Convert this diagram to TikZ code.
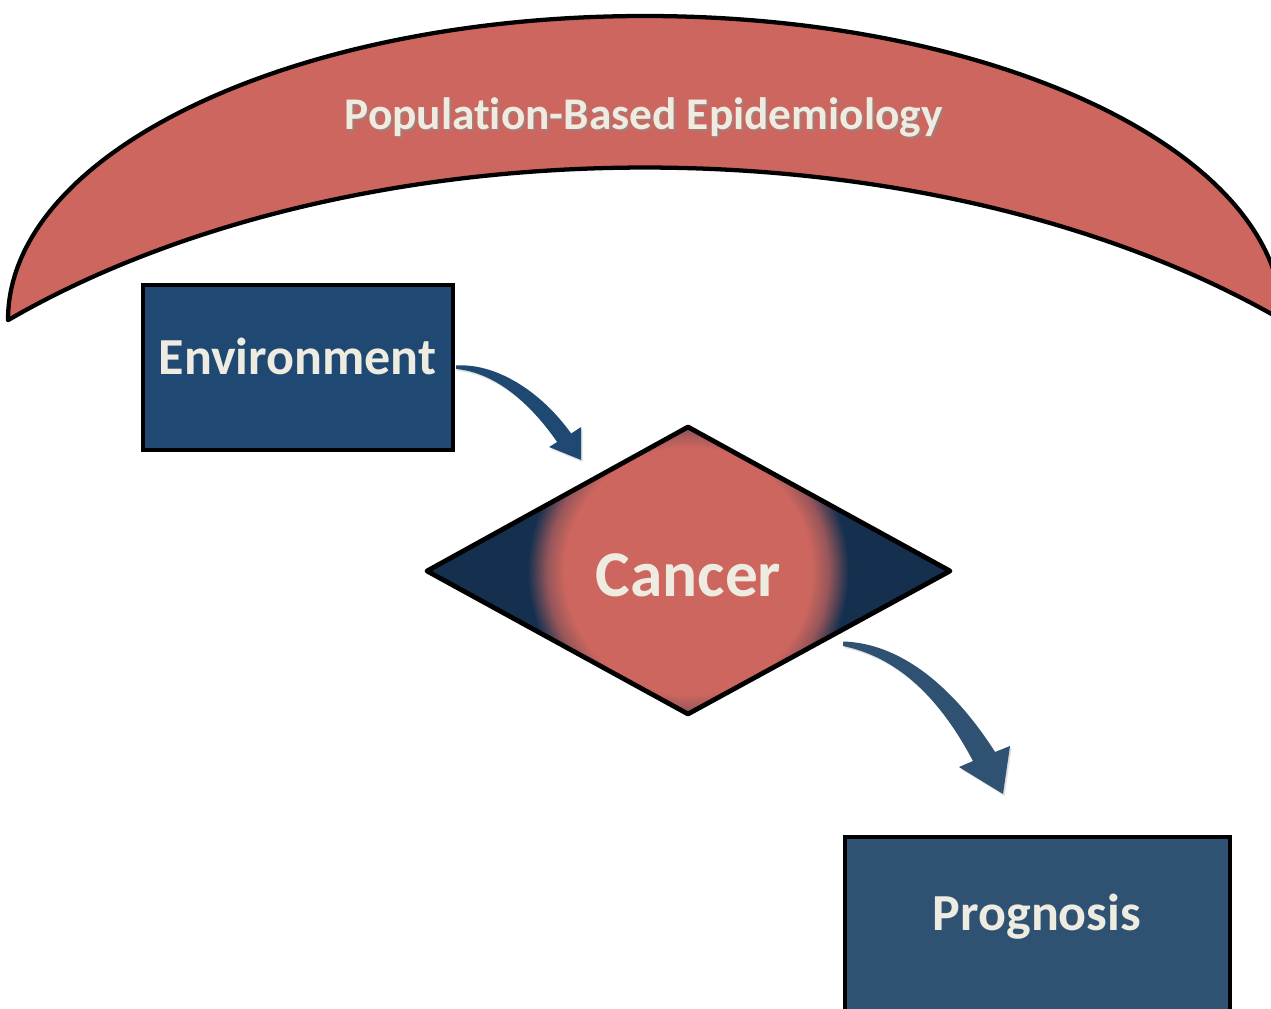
\documentclass[tikz,border=0pt]{standalone}
\usepackage{fontspec}
\setmainfont{Carlito}[Ligatures=NoCommon]
\usetikzlibrary{calc,shadows}

\definecolor{crescentred}{RGB}{205,102,94}
\definecolor{cream}{RGB}{238,236,225}
\definecolor{envblue}{RGB}{31,73,114}
\definecolor{progblue}{RGB}{47,82,115}
\definecolor{deepnavy}{RGB}{21,48,79}

% red disc that fades into navy towards its rim (25bp = path radius)
\pgfdeclareradialshading{cancerglow}{\pgfpoint{0bp}{0bp}}{%
  color(0bp)=(crescentred); color(18.2bp)=(crescentred);
  color(20.7bp)=(crescentred!70!deepnavy); color(23.6bp)=(deepnavy);
  color(50bp)=(deepnavy)}

\begin{document}
\begin{tikzpicture}[x=0.75pt,y=-0.75pt,
  outline/.style={draw=black,line width=3.2pt},
  boxnode/.style={outline,rectangle,inner sep=0pt},
  label/.style={text=cream,font=\bfseries,inner sep=0pt,anchor=base},
  blockarrow/.style={drop shadow={opacity=0.25,shadow xshift=1.2pt,shadow yshift=-1.5pt}}]
\useasboundingbox (0,0) rectangle (1271,1009);
\clip (0,0) rectangle (1271,1009);

% crescent band across the top
\filldraw[outline,fill=crescentred,line join=round]
  (8,320) arc[start angle=180,end angle=360,x radius=637,y radius=304]
  arc[start angle=-44.7,end angle=-135.3,x radius=896,y radius=514] -- cycle;
\node[label,text=black!45,opacity=0.6,font=\bfseries\fontsize{34}{40}\selectfont]
  (titleshadow) at (645.5,132) {Population-Based Epidemiology};
\node[label,font=\bfseries\fontsize{34}{40}\selectfont]
  (title) at (643.5,130) {Population-Based Epidemiology};

% boxes
\node[boxnode,fill=envblue,minimum width=232.5pt,minimum height=123.75pt]
  (env) at (298,367.5) {};
\node[label,font=\bfseries\fontsize{39}{46}\selectfont]
  (envtext) at (297.5,374) {Environment};

\node[boxnode,fill=progblue,minimum width=288.75pt,minimum height=165pt]
  (prog) at (1037.5,947) {};
\node[label,font=\bfseries\fontsize{39}{46}\selectfont]
  (progtext) at (1037,930) {Prognosis};

% diamond with glowing centre
\coordinate (cancer) at (688,571);
\begin{scope}
  \clip ($(cancer)+(-261,0)$) -- ($(cancer)+(0,-144)$) -- ($(cancer)+(262,0)$)
        -- ($(cancer)+(0,143)$) -- cycle;
  \fill[deepnavy] (cancer) ++(-300,-200) rectangle ++(600,400);
  \shade[shading=cancerglow] (cancer) circle[radius=170];
\end{scope}
\draw[outline,line width=3.6pt,line join=round]
  ($(cancer)+(-261,0)$) -- ($(cancer)+(0,-144)$) -- ($(cancer)+(262,0)$)
  -- ($(cancer)+(0,143)$) -- cycle;
\node[label,font=\bfseries\fontsize{49}{58}\selectfont]
  (cancertext) at (688.5,596) {Cancer};

% curved arrow: Environment -> Cancer
\begin{scope}[shift={(env.east)}]
  \fill[envblue,blockarrow]
    (1,-2) .. controls (39,-4.5) and (84,21.5) .. (116,66)
    -- (126,59.5) -- (126,92.5) -- (94,79.5) -- (102,74.5)
    .. controls (74,34) and (39,5) .. (1,1.5) -- cycle;
\end{scope}

% curved arrow: Cancer -> Prognosis
\begin{scope}[shift={(cancer)}]
  \fill[progblue,blockarrow]
    (155,70.5) .. controls (212,72) and (265,115) .. (307,181)
    -- (322,175) -- (315,223) -- (271,196) -- (285,190)
    .. controls (250,124) and (208,86) .. (155,75) -- cycle;
\end{scope}
\end{tikzpicture}
\end{document}
